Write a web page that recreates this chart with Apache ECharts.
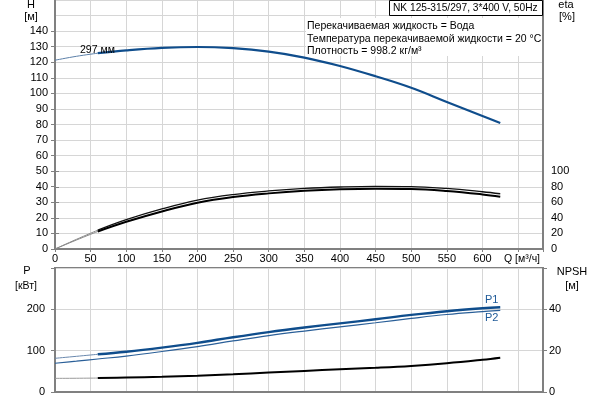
<!DOCTYPE html>
<html>
<head>
<meta charset="utf-8">
<script src="https://cdn.jsdelivr.net/npm/echarts@6/dist/echarts.min.js"></script>
<style>
  html, body { margin: 0; padding: 0; background: #fff; }
  #chart { width: 600px; height: 400px; }
</style>
</head>
<body>
<div id="chart"></div>
<script>
// flow, m3/h
var flow = [0, 30, 60, 100, 150, 200, 250, 300, 350, 400, 450, 500, 550, 600, 625];
// head H, m
var head = [121.3, 123.8, 125.8, 127.6, 129.2, 129.8, 129.0, 126.8, 123.0, 117.6, 111.0, 103.6, 94.5, 85.5, 81.0];
// efficiency, %
var etaUpper = [0, 12.4, 24.2, 37.7, 51.5, 62.8, 70.0, 74.6, 77.8, 79.7, 80.6, 80.3, 77.8, 73.6, 71.0];
var etaLower = [0, 11.5, 22.5, 35.0, 48.3, 59.5, 66.8, 71.5, 74.8, 76.8, 77.6, 77.2, 74.6, 70.2, 67.2];
// power, kW
var powerP1 = [81.5, 86.3, 91.2, 97.5, 107.5, 119, 132.5, 145, 156, 166, 176, 186.5, 195.5, 202.5, 205];
var powerP2 = [69.5, 74.5, 79.8, 87, 98, 110, 123.5, 136.5, 147.5, 157.5, 167.5, 178, 187.5, 194.5, 197.5];
// NPSH, m
var npsh = [6.6, 6.65, 6.75, 7.0, 7.4, 7.9, 8.6, 9.4, 10.2, 11.0, 11.7, 12.6, 13.9, 15.6, 16.6];

var xTicksMax = 600;
var hLabelMax = 140;
var thickFrom = 2; // index of 60 m3/h, thick part starts here

function pairs(ys, from, to) {
  var out = [];
  for (var i = from; i <= to; i++) out.push([flow[i], ys[i]]);
  return out;
}
var last = flow.length - 1;

var FONT = 'Liberation Sans';
var AX = '#808080';
var GRIDC = '#d6d6d6';
var BLUE = '#0f4d8c';

var chart = echarts.init(document.getElementById('chart'));

function xAx(gi, labels) {
  return {
    gridIndex: gi, type: 'value', min: 0, max: 685, interval: 50,
    axisLine: { show: gi === 0 || gi === 3, lineStyle: { color: AX, width: 2 } },
    axisTick: { show: labels, length: 3, lineStyle: { color: AX } },
    axisLabel: {
      show: labels, margin: 4, color: '#000', fontFamily: FONT, fontSize: 11,
      formatter: function (v) { return v <= xTicksMax ? String(v) : ''; }
    },
    splitLine: { show: gi === 0 || gi === 3, lineStyle: { color: GRIDC, width: 1 } }
  };
}

var line = function (name, xi, yi, data, color, width) {
  return {
    name: name, type: 'line', xAxisIndex: xi, yAxisIndex: yi, data: data,
    smooth: 0.4, showSymbol: false, silent: true, z: 3,
    lineStyle: { color: color, width: width }
  };
};

var txt = function (x, y, s, align, color, size) {
  return {
    type: 'text', x: x, y: y, z: 10,
    style: { text: s, fill: color || '#000', font: (size || 11) + 'px "' + FONT + '"', textAlign: align || 'left', textVerticalAlign: 'middle' }
  };
};

var option = {
  animation: false,
  grid: [
    { left: 55, right: 57, top: 0, height: 249 },          // top frame
    { left: 55, right: 57, top: 31.1, height: 217.9 },     // H 0..140
    { left: 55, right: 57, top: 171.2, height: 77.8 },     // eta 0..100
    { left: 55, right: 57, top: 268, height: 124, show: true, borderColor: AX, borderWidth: 2 } // P / NPSH
  ],
  xAxis: [xAx(0, true), xAx(1, false), xAx(2, false), xAx(3, false)],
  yAxis: [
    { gridIndex: 0, type: 'value', min: 0, max: 160, interval: 10,
      axisLine: { show: true, lineStyle: { color: AX, width: 2 } },
      axisTick: { show: false }, axisLabel: { show: false },
      splitLine: { lineStyle: { color: GRIDC, width: 1 } } },
    { gridIndex: 0, type: 'value', min: 0, max: 320, position: 'right',
      axisLine: { show: true, lineStyle: { color: AX, width: 2 } },
      axisTick: { show: false }, axisLabel: { show: false }, splitLine: { show: false } },
    { gridIndex: 1, type: 'value', min: 0, max: hLabelMax, interval: 10,
      axisLine: { show: false },
      axisTick: { show: true, length: 4, lineStyle: { color: AX } },
      axisLabel: { margin: 7, color: '#000', fontFamily: FONT, fontSize: 11 },
      splitLine: { show: false } },
    { gridIndex: 2, type: 'value', min: 0, max: 100, interval: 20, position: 'right',
      axisLine: { show: false },
      axisTick: { show: true, length: 4, lineStyle: { color: AX } },
      axisLabel: { margin: 8, color: '#000', fontFamily: FONT, fontSize: 11 },
      splitLine: { show: false } },
    { gridIndex: 3, type: 'value', min: 0, max: 300, interval: 100,
      axisLine: { show: true, lineStyle: { color: AX, width: 2 } },
      axisTick: { show: true, length: 4, lineStyle: { color: AX } },
      axisLabel: { margin: 10, color: '#000', fontFamily: FONT, fontSize: 11,
        formatter: function (v) { return v < 300 ? String(v) : ''; } },
      splitLine: { lineStyle: { color: GRIDC, width: 1 } } },
    { gridIndex: 3, type: 'value', min: 0, max: 60, interval: 20, position: 'right',
      axisLine: { show: true, lineStyle: { color: AX, width: 2 } },
      axisTick: { show: true, length: 4, lineStyle: { color: AX } },
      axisLabel: { margin: 6, color: '#000', fontFamily: FONT, fontSize: 11,
        formatter: function (v) { return v < 60 ? String(v) : ''; } },
      splitLine: { show: false } }
  ],
  series: [
    line('H thin', 1, 2, pairs(head, 0, thickFrom), '#5b7fa8', 1),
    line('H', 1, 2, pairs(head, thickFrom, last), BLUE, 2.2),
    line('eta up thin', 2, 3, pairs(etaUpper, 0, thickFrom), '#8a8a8a', 1),
    line('eta low thin', 2, 3, pairs(etaLower, 0, thickFrom), '#8a8a8a', 1),
    line('eta up', 2, 3, pairs(etaUpper, thickFrom, last), '#111', 1.3),
    line('eta low', 2, 3, pairs(etaLower, thickFrom, last), '#000', 2),
    line('P1 thin', 3, 4, pairs(powerP1, 0, thickFrom), '#6a88ad', 1),
    line('P1', 3, 4, pairs(powerP1, thickFrom, last), BLUE, 2.4),
    line('P2', 3, 4, pairs(powerP2, 0, last), '#2a5f98', 1.2),
    line('NPSH thin', 3, 5, pairs(npsh, 0, thickFrom), '#9a9a9a', 1),
    line('NPSH', 3, 5, pairs(npsh, thickFrom, last), '#000', 2)
  ],
  graphic: [
    { type: 'rect', z: 5, shape: { x: 306, y: 18, width: 236, height: 38 }, style: { fill: '#fff' } },
    { type: 'rect', z: 6, shape: { x: 389.5, y: 0.5, width: 153, height: 15 }, style: { fill: '#fff', stroke: '#000', lineWidth: 1 } },
    txt(393, 8, 'NK 125-315/297, 3*400 V, 50Hz', 'left', '#000', 10.2),
    txt(307, 26, 'Перекачиваемая жидкость = Вода', 'left', '#000', 10.5),
    txt(307, 39, 'Температура перекачиваемой жидкости = 20 °C', 'left', '#000', 10.5),
    txt(307, 51.5, 'Плотность = 998.2 кг/м³', 'left', '#000', 10.5),
    txt(80, 50, '297 мм', 'left', '#000', 10.5),
    txt(31, 5, 'H', 'center'),
    txt(31, 17, '[м]', 'center'),
    txt(566, 5, 'eta', 'center'),
    txt(567, 17, '[%]', 'center'),
    txt(504, 259.5, 'Q [м³/ч]', 'left', '#000', 10.5),
    txt(27, 271, 'P', 'center'),
    txt(26, 286, '[кВт]', 'center', '#000', 10.5),
    txt(572, 272, 'NPSH', 'center'),
    txt(572, 286, '[м]', 'center'),
    txt(485, 300, 'P1', 'left', '#1f5a98'),
    txt(485, 318, 'P2', 'left', '#1f5a98')
  ]
};

chart.setOption(option);
</script>
</body>
</html>
